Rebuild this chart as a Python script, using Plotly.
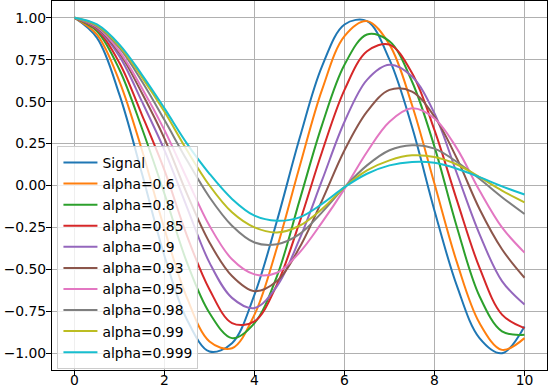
import plotly.graph_objects as go

x_vals = [0, 0.5, 1, 1.5, 2, 2.5, 3, 3.5, 4, 4.5, 5, 5.5, 6, 6.5, 7, 7.5, 8, 8.5, 9, 9.5, 10]

signal = [1.00, 0.88, 0.54, 0.07, -0.42, -0.80, -0.99, -0.94, -0.65, -0.21, 0.28,
          0.71, 0.96, 0.98, 0.75, 0.35, -0.15, -0.60, -0.91, -1.00, -0.84]
alpha_060 = [1.00, 0.90, 0.62, 0.21, -0.26, -0.67, -0.93, -0.97, -0.77, -0.37, 0.11,
             0.57, 0.89, 0.98, 0.84, 0.48, 0.01, -0.46, -0.82, -0.98, -0.91]
alpha_080 = [1.00, 0.92, 0.69, 0.34, -0.05, -0.46, -0.76, -0.91, -0.82, -0.54, -0.09,
             0.36, 0.72, 0.90, 0.86, 0.62, 0.23, -0.25, -0.66, -0.87, -0.89]
alpha_085 = [1.00, 0.93, 0.73, 0.42, 0.09, -0.30, -0.62, -0.82, -0.81, -0.59, -0.22,
             0.20, 0.57, 0.80, 0.84, 0.67, 0.33, -0.09, -0.49, -0.77, -0.85]
alpha_090 = [1.00, 0.935, 0.77, 0.50, 0.21, -0.13, -0.46, -0.67, -0.73, -0.60, -0.32,
             0.03, 0.38, 0.63, 0.72, 0.65, 0.43, 0.07, -0.29, -0.57, -0.71]
alpha_093 = [1.00, 0.94, 0.79, 0.55, 0.28, -0.05, -0.34, -0.54, -0.63, -0.57, -0.37,
             -0.09, 0.21, 0.44, 0.57, 0.56, 0.41, 0.16, -0.14, -0.38, -0.55]
alpha_095 = [1.00, 0.945, 0.80, 0.58, 0.33, 0.04, -0.24, -0.44, -0.53, -0.52, -0.40,
             -0.22, -0.02, 0.20, 0.38, 0.46, 0.40, 0.22, -0.03, -0.25, -0.40]
alpha_098 = [1.00, 0.95, 0.82, 0.62, 0.39, 0.15, -0.07, -0.24, -0.34, -0.35, -0.29,
             -0.16, -0.01, 0.12, 0.21, 0.24, 0.22, 0.14, 0.04, -0.07, -0.17]
alpha_099 = [1.00, 0.955, 0.83, 0.645, 0.44, 0.21, 0.00, -0.16, -0.25, -0.28, -0.24,
             -0.14, -0.01, 0.09, 0.15, 0.18, 0.17, 0.125, 0.05, -0.03, -0.10]
alpha_0999 = [1.00, 0.96, 0.84, 0.66, 0.46, 0.25, 0.07, -0.08, -0.18, -0.21, -0.19,
              -0.11, -0.01, 0.07, 0.12, 0.14, 0.135, 0.10, 0.05, -0.005, -0.054]

series_names = ["Signal", "alpha=0.6", "alpha=0.8", "alpha=0.85", "alpha=0.9",
                "alpha=0.93", "alpha=0.95", "alpha=0.98", "alpha=0.99", "alpha=0.999"]
series_values = [signal, alpha_060, alpha_080, alpha_085, alpha_090,
                 alpha_093, alpha_095, alpha_098, alpha_099, alpha_0999]
colors = ["#1f77b4", "#ff7f0e", "#2ca02c", "#d62728", "#9467bd",
          "#8c564b", "#e377c2", "#7f7f7f", "#bcbd22", "#17becf"]

x_tickvals = [0, 2, 4, 6, 8, 10]
x_ticktext = ["0", "2", "4", "6", "8", "10"]
y_tickvals = [-1.0, -0.75, -0.5, -0.25, 0.0, 0.25, 0.5, 0.75, 1.0]
y_ticktext = ["\u22121.00", "\u22120.75", "\u22120.50", "\u22120.25", "0.00",
              "0.25", "0.50", "0.75", "1.00"]

fig = go.Figure()
for name, vals, col in zip(series_names, series_values, colors):
    fig.add_trace(go.Scatter(
        x=x_vals, y=vals, name=name, mode="lines",
        line=dict(color=col, width=2, shape="spline", smoothing=1.0),
    ))

font_family = "DejaVu Sans"
axis_common = dict(
    showgrid=True, gridcolor="#b0b0b0", gridwidth=1,
    showline=True, linecolor="black", linewidth=1, mirror=True,
    ticks="outside", ticklen=5, tickcolor="black", tickwidth=1,
    zeroline=False, automargin=False,
    tickfont=dict(family=font_family, size=13.9, color="black"),
)
fig.update_layout(
    width=549, height=391,
    margin=dict(l=52, r=2, t=1, b=21),
    paper_bgcolor="white", plot_bgcolor="white",
    font=dict(family=font_family, size=13.9, color="black"),
    showlegend=True,
    legend=dict(
        x=0.011, y=0.607, xanchor="left", yanchor="top",
        bgcolor="rgba(255,255,255,0.8)", bordercolor="#cccccc", borderwidth=1,
        font=dict(family=font_family, size=13.9, color="black"),
        itemwidth=34,
    ),
    xaxis=dict(range=[-0.5, 10.5], tickvals=x_tickvals, ticktext=x_ticktext,
               ticklabelstandoff=-8, **axis_common),
    yaxis=dict(range=[-1.1, 1.1], tickvals=y_tickvals, ticktext=y_ticktext,
               ticklabelstandoff=-3, **axis_common),
)

fig.write_html("out.html",
               config={"displayModeBar": False},
               post_script="document.body.style.margin='0';document.body.style.padding='0';")
